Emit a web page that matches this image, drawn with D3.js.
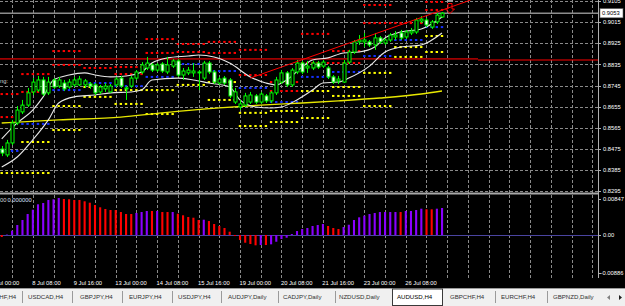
<!DOCTYPE html>
<html><head><meta charset="utf-8">
<script src="https://cdn.jsdelivr.net/npm/d3@7"></script>
<style>html,body{margin:0;padding:0;background:#000;overflow:hidden}svg{display:block}</style>
</head><body>
<svg id="c" width="625" height="306"></svg>
<script>
// ---------------- DATA ----------------
const opens = [
.8475,.8450,.8501,.8586,.8633,.8662,.8718,.8726,.8769,.8714,
.8769,.8743,.8756,.8739,.8748,.8748,.8748,.8752,.8748,.8718,
.8731,.8718,.8748,.8777,.8731,.8743,.8777,.8803,.8820,.8833,
.8811,.8837,.8803,.8828,.8850,.8790,.8799,.8799,.8799,.8777,
.8841,.8803,.8756,.8777,.8769,.8675,.8654,.8662,.8675,.8701,
.8675,.8701,.8680,.8714,.8760,.8799,.8748,.8803,.8841,.8820,
.8820,.8841,.8828,.8820,.8782,.8765,.8760,.8845,.8888,.8931,
.8931,.8931,.8918,.8948,.8926,.8939,.8952,.8969,.8952,.8969,
.8973,.9020,.9024,.8994,.9016,.9037];
const highs = [
.8488,.8514,.8599,.8658,.8684,.8735,.8777,.8786,.8782,.8782,
.8777,.8782,.8769,.8773,.8782,.8786,.8773,.8760,.8756,.8748,
.8756,.8752,.8782,.8786,.8743,.8786,.8811,.8845,.8867,.8841,
.8841,.8845,.8867,.8858,.8858,.8820,.8824,.8841,.8811,.8850,
.8850,.8811,.8782,.8786,.8777,.8735,.8684,.8714,.8718,.8709,
.8718,.8709,.8722,.8782,.8811,.8807,.8820,.8854,.8850,.8850,
.8850,.8850,.8854,.8828,.8790,.8786,.8854,.8897,.8939,.8960,
.8969,.8939,.8969,.8956,.8948,.8969,.8977,.8982,.8982,.8990,
.9033,.9041,.9033,.9024,.9054,.9058];
const lows = [
.8445,.8441,.8492,.8577,.8624,.8654,.8705,.8718,.8701,.8705,
.8731,.8735,.8722,.8731,.8739,.8743,.8735,.8731,.8705,.8709,
.8718,.8714,.8739,.8735,.8684,.8735,.8769,.8794,.8811,.8803,
.8803,.8799,.8794,.8820,.8782,.8769,.8790,.8782,.8726,.8769,
.8794,.8752,.8748,.8748,.8692,.8667,.8641,.8654,.8667,.8667,
.8667,.8671,.8671,.8705,.8752,.8739,.8739,.8794,.8794,.8799,
.8811,.8816,.8820,.8773,.8752,.8752,.8756,.8837,.8880,.8918,
.8909,.8909,.8897,.8922,.8918,.8931,.8939,.8939,.8943,.8960,
.8965,.9011,.8994,.8986,.9007,.9033];
const closes = [
.8458,.8501,.8586,.8641,.8662,.8714,.8760,.8769,.8709,.8760,
.8739,.8769,.8731,.8760,.8769,.8773,.8765,.8743,.8714,.8739,
.8743,.8743,.8773,.8743,.8735,.8777,.8803,.8833,.8841,.8811,
.8833,.8807,.8833,.8850,.8790,.8807,.8811,.8807,.8803,.8841,
.8803,.8760,.8773,.8756,.8701,.8718,.8667,.8701,.8705,.8675,
.8709,.8680,.8714,.8769,.8799,.8748,.8811,.8841,.8803,.8828,
.8841,.8824,.8845,.8782,.8760,.8773,.8841,.8888,.8931,.8939,
.8939,.8918,.8948,.8931,.8939,.8960,.8960,.8948,.8973,.8977,
.9024,.9028,.9003,.9016,.9045,.9053];

const histValues = [
-0.00047,0.00010,0.00101,0.00235,0.00353,0.00494,0.00595,0.00722,0.00753,0.00824,
0.00840,0.00871,0.00847,0.00840,0.00824,0.00824,0.00793,0.00760,0.00706,0.00652,
0.00612,0.00588,0.00588,0.00541,0.00494,0.00494,0.00518,0.00541,0.00565,0.00565,
0.00565,0.00541,0.00541,0.00541,0.00501,0.00464,0.00424,0.00407,0.00353,0.00360,
0.00329,0.00259,0.00212,0.00165,0.00078,-0.00024,-0.00118,-0.00181,-0.00212,-0.00242,
-0.00235,-0.00235,-0.00219,-0.00158,-0.00094,-0.00064,0.00024,0.00094,0.00141,0.00165,
0.00212,0.00235,0.00259,0.00212,0.00165,0.00141,0.00188,0.00242,0.00353,0.00416,
0.00454,0.00494,0.00518,0.00541,0.00541,0.00541,0.00541,0.00541,0.00565,0.00565,
0.00588,0.00619,0.00605,0.00605,0.00619,0.00635];
const histDirection = ("du" + "uuuuuuuuuu" + "dddddddddddddd" + "uuu" + "d" + "u" + "dd" + "u" +
  "ddddd" + "u" + "dddddddddd" + "u" + "d" + "uuuuuuuuuuu" + "ddd" + "uuuuuuuuuuu" + "d" +
  "uuuu" + "dd" + "uu").split("");

const dayStartBar = [0,4,10,16,22,28,34,40,46,52,58,64,70,76,82];
const dayEndBar   = [3,9,15,21,27,33,39,45,51,57,63,69,75,81,85];
const resistLevels = [
 [.8709,.8611],[.8794,.8718],[.8892,.8833],[.8820],[.8824,.8794],[.8943,.8884],
 [.8922,.8888],[.8931,.8884],[.8897,.8790],[.8760,.8722],[.8965,.8841],[.8892,.8841],
 [.9088,.9011],[.9011],[.9101,.9067]];
const pivotLevels = [.8467,.8582,.8726,.8756,.8743,.8782,.8837,.8807,.8735,.8675,.8782,.8803,.8871,.8939,.8994];
const supportLevels = [
 [.8373],[.8505,.8373],[.8658,.8556],[.8739,.8697],[.8726,.8667],[.8726,.8624],
 [.8748],[.8760,.8684],[.8629,.8573],[.8637,.8590],[.8722,.8607],[.8739,.8701],
 [.8799,.8658],[.8909,.8867],[.8956,.8888]];

const upperBand = [[0,.8518],[3,.8586],[6,.8641],[8,.8697],[10,.8769],[13,.8790],[16,.8799],
 [18,.8790],[21,.8782],[24,.8786],[27,.8803],[29,.8841],[32,.8863],[36,.8871],[38,.8875],
 [41,.8867],[44,.8841],[48,.8782],[51,.8756],[53,.8748],[55,.8769],[58,.8824],[60,.8854],
 [63,.8863],[66,.8884],[69,.8888],[72,.8909],[74,.8948],[77,.8973],[81,.8986],[85,.9037]];
const lowerBand = [[0,.8399],[3,.8441],[6,.8514],[9,.8599],[11,.8671],[14,.8697],[18,.8705],
 [21,.8714],[25,.8718],[27,.8726],[29,.8769],[34,.8777],[37,.8769],[40,.8756],[44,.8739],
 [46,.8684],[49,.8654],[52,.8650],[54,.8654],[57,.8684],[60,.8726],[62,.8756],[65,.8760],
 [67,.8777],[71,.8828],[74,.8888],[77,.8909],[81,.8918],[85,.8969]];
const slowMA = [[0,.8586],[11,.8599],[23,.8611],[31,.8629],[42,.8650],[50,.8662],[58,.8671],
 [65,.8680],[73,.8692],[81,.8709],[85,.8722]];
const trendLine = [[48,.8777],[90.5,.9109]];
const horizontalLevel = 0.8856;
const bidPrice = 0.9053;

const priceTicks = [0.9105,0.9015,0.8925,0.8835,0.8745,0.8655,0.8565,0.8475,0.8385,0.8295];
const subTicks = [0.00847, 0, -0.00886];
const subTickLabels = ["0.00847","0.00","-0.00886"];
const dateTickBars = [-2,6,14,22,30,38,46,54,62,70,78];
const dateTickLabels = ["7 Jul 00:00","8 Jul 08:00","9 Jul 16:00","13 Jul 00:00","14 Jul 08:00",
 "15 Jul 16:00","19 Jul 00:00","20 Jul 08:00","21 Jul 16:00","23 Jul 00:00","26 Jul 08:00"];
const tabNames = ["EURCHF,H4","USDCAD,H4","GBPJPY,H4","EURJPY,H4","USDJPY,H4","AUDJPY,Daily",
 "CADJPY,Daily","NZDUSD,Daily","AUDUSD,H4","GBPCHF,H4","EURCHF,H4","GBPNZD,Daily"];
const activeTab = "AUDUSD,H4";

// ---------------- LAYOUT ----------------
const W = 625, H = 306, plotR = 598, mainBot = 192, subTop = 195, subBot = 278;
const FONT = "'Liberation Sans', Arial, sans-serif";
const FS = 5.8;
const svg = d3.select("#c");
const x = d3.scaleLinear().domain([0, 85]).range([1.7, 442]);
const y = d3.scaleLinear().domain([0.8295, 0.9105]).range([191.35, 1]);
const ys = d3.scaleLinear().domain([-0.00886, 0.00847]).range([272.7, 199]);
const px = v => Math.round(v) + 0.5;

svg.append("rect").attr("width", W).attr("height", H).attr("fill", "#000");
const defs = svg.append("defs");
defs.append("clipPath").attr("id", "cm").append("rect").attr("x", 0).attr("y", 0).attr("width", plotR).attr("height", mainBot);
defs.append("clipPath").attr("id", "cs").append("rect").attr("x", 0).attr("y", subTop).attr("width", plotR).attr("height", subBot - subTop);

// grid
const grid = svg.append("g").attr("stroke", "#8a8a8a").attr("stroke-dasharray", "3,2").attr("stroke-width", 1);
const gridBars = d3.range(2, 116, 4);
grid.selectAll("line.v").data(gridBars).join("line").attr("class", "v")
  .attr("x1", b => px(x(b))).attr("x2", b => px(x(b))).attr("y1", 0).attr("y2", subBot);
grid.selectAll("line.h").data(priceTicks).join("line").attr("class", "h")
  .attr("x1", 0).attr("x2", plotR).attr("y1", p => px(y(p))).attr("y2", p => px(y(p)));

// window separator & axis line
svg.append("rect").attr("x", 0).attr("y", 192.5).attr("width", plotR + 1).attr("height", 2).attr("fill", "#a8a8a8");
svg.append("line").attr("x1", px(plotR)).attr("x2", px(plotR)).attr("y1", 0).attr("y2", subBot).attr("stroke", "#b0b0b0");

// ------- main window -------
const gm = svg.append("g").attr("clip-path", "url(#cm)");

// bid line
gm.append("line").attr("x1", 0).attr("x2", plotR).attr("y1", y(bidPrice)).attr("y2", y(bidPrice))
  .attr("stroke", "#8c8c8c").attr("stroke-width", 1.6);

// horizontal red level
gm.append("line").attr("x1", 0).attr("x2", 478).attr("y1", y(horizontalLevel) - 0.6).attr("y2", y(horizontalLevel) - 0.6)
  .attr("stroke", "#a00000").attr("stroke-width", 1.6);
gm.append("line").attr("x1", 478).attr("x2", plotR).attr("y1", y(horizontalLevel) + 0.5).attr("y2", y(horizontalLevel) + 0.5)
  .attr("stroke", "#ff0000").attr("stroke-width", 1.2);

// daily level dots
const dots = [];
dayStartBar.forEach((s, d) => {
  for (let b = s; b <= dayEndBar[d]; b++) {
    resistLevels[d].forEach(v => dots.push({ b, v, c: "#ff0000" }));
    dots.push({ b, v: pivotLevels[d], c: "#1530ff" });
    supportLevels[d].forEach(v => dots.push({ b, v, c: "#ffff00" }));
  }
});
gm.selectAll("rect.dot").data(dots).join("rect").attr("class", "dot")
  .attr("x", d => x(d.b) - 1.2).attr("y", d => y(d.v) - 1).attr("width", 2.4).attr("height", 2)
  .attr("fill", d => d.c);

// slow MA (yellow)
const lineGen = d3.line().x(d => x(d[0])).y(d => y(d[1])).curve(d3.curveMonotoneX);
gm.append("path").attr("d", lineGen(slowMA)).attr("fill", "none").attr("stroke", "#e8e800").attr("stroke-width", 1.4);
// bands (white)
gm.append("path").attr("d", lineGen(upperBand)).attr("fill", "none").attr("stroke", "#e8e8e8").attr("stroke-width", 1.1);
gm.append("path").attr("d", lineGen(lowerBand)).attr("fill", "none").attr("stroke", "#e8e8e8").attr("stroke-width", 1.1);

// candles
const candles = opens.map((o, i) => ({ i, o, h: highs[i], l: lows[i], c: closes[i] }));
const cg = gm.append("g");
cg.selectAll("line.wick").data(candles).join("line").attr("class", "wick")
  .attr("x1", d => px(x(d.i))).attr("x2", d => px(x(d.i)))
  .attr("y1", d => y(d.h)).attr("y2", d => y(d.l)).attr("stroke", "#00ff00").attr("stroke-width", 1);
cg.selectAll("rect.body").data(candles).join("rect").attr("class", "body")
  .attr("x", d => px(x(d.i)) - 1.5).attr("width", 3)
  .attr("y", d => y(Math.max(d.o, d.c))).attr("height", d => Math.max(0.8, Math.abs(y(d.o) - y(d.c))))
  .attr("fill", d => d.c >= d.o ? "#000" : "#ffffff").attr("stroke", "#00ff00").attr("stroke-width", 1);

// trend line
gm.append("line").attr("x1", x(trendLine[0][0])).attr("y1", y(trendLine[0][1]))
  .attr("x2", x(trendLine[1][0])).attr("y2", y(trendLine[1][1])).attr("stroke", "#ff0000").attr("stroke-width", 1);

// arrow mark at top
gm.append("rect").attr("x", 447).attr("y", 0).attr("width", 6).attr("height", 2).attr("fill", "#9a9a9a");
gm.append("path").attr("d", "M448,3.5 L452,3.5 L452,9 L454.5,9 L450,13.5 L445.5,9 L448,9 Z")
  .attr("fill", "none").attr("stroke", "#ff0000").attr("stroke-width", 1);

// left label
svg.append("text").attr("x", 0).attr("y", 83).attr("font-family", FONT).attr("font-size", FS)
  .attr("fill", "#d0d0d0").text("ng:");

// price axis
const pa = svg.append("g").attr("font-family", FONT).attr("font-size", FS).attr("fill", "#ffffff");
priceTicks.forEach(p => {
  pa.append("line").attr("x1", plotR).attr("x2", plotR + 3).attr("y1", px(y(p))).attr("y2", px(y(p))).attr("stroke", "#b0b0b0");
  pa.append("text").attr("x", 603).attr("y", y(p) + 2.1).text(d3.format(".4f")(p));
});
pa.append("rect").attr("x", 600).attr("y", y(bidPrice) - 4.6).attr("width", 23).attr("height", 9.2)
  .attr("fill", "#ffffff").attr("stroke", "#606060").attr("stroke-width", 0.6);
pa.append("text").attr("x", 602).attr("y", y(bidPrice) + 2.1).attr("fill", "#000").text(d3.format(".4f")(bidPrice));

// ------- sub window -------
const gs = svg.append("g").attr("clip-path", "url(#cs)");
gs.append("line").attr("x1", 0).attr("x2", plotR).attr("y1", px(ys(0))).attr("y2", px(ys(0)))
  .attr("stroke", "#4a44a0").attr("stroke-width", 1);
gs.selectAll("rect.hb").data(histValues).join("rect").attr("class", "hb")
  .attr("x", (v, i) => x(i) - 1).attr("width", 2.1)
  .attr("y", v => Math.min(ys(v), ys(0))).attr("height", v => Math.abs(ys(v) - ys(0)))
  .attr("fill", (v, i) => histDirection[i] === "d" ? "#ff0000" : "#8a00ff");

svg.append("text").attr("x", 0).attr("y", 201.5).attr("font-family", FONT).attr("font-size", FS)
  .attr("fill", "#d8d8d8").text("00");
svg.append("text").attr("x", 7.5).attr("y", 201.5).attr("font-family", FONT).attr("font-size", FS)
  .attr("fill", "#d8e0ff").text("0.000000");

const sa = svg.append("g").attr("font-family", FONT).attr("font-size", FS).attr("fill", "#ffffff");
subTicks.forEach((v, i) => {
  sa.append("line").attr("x1", plotR).attr("x2", plotR + 3).attr("y1", px(ys(v))).attr("y2", px(ys(v))).attr("stroke", "#b0b0b0");
  sa.append("text").attr("x", i === 2 ? 600.5 : 603).attr("y", ys(v) + 2.1).text(subTickLabels[i]);
});

// date axis
const da = svg.append("g").attr("font-family", FONT).attr("font-size", FS).attr("fill", "#ffffff");
dateTickBars.forEach((b, i) => {
  da.append("text").attr("x", x(b) - 0.5).attr("y", 285.2).text(dateTickLabels[i]);
});

// tabs
const tb = svg.append("g");
tb.append("rect").attr("x", 0).attr("y", 288).attr("width", W).attr("height", 18).attr("fill", "#f0f0f0");
tb.append("line").attr("x1", 0).attr("x2", W).attr("y1", 288.5).attr("y2", 288.5).attr("stroke", "#9a9a9a");
const tabTextX = [-18, 28, 80, 129, 178, 228, 283, 339, 397, 450, 501, 553];
const tabSepX = [22, 72, 122, 172, 221, 278, 335, 495, 547];
tb.append("rect").attr("x", 392.5).attr("y", 289).attr("width", 50).attr("height", 16.5)
  .attr("fill", "#ffffff").attr("stroke", "#3a3a3a").attr("stroke-width", 1);
tabSepX.forEach(s => tb.append("line").attr("x1", s + 0.5).attr("x2", s + 0.5).attr("y1", 291).attr("y2", 303).attr("stroke", "#9a9a9a"));
tabNames.forEach((t, i) => {
  tb.append("text").attr("x", tabTextX[i]).attr("y", 299.3).attr("font-family", FONT).attr("font-size", FS + 0.3)
    .attr("fill", t === activeTab && i === 8 ? "#000" : "#303030").text(t);
});
tb.append("path").attr("d", "M610,295 L607,297.5 L610,300 Z").attr("fill", "#808080");
tb.append("path").attr("d", "M619,295 L622,297.5 L619,300 Z").attr("fill", "#202020");
</script>
</body></html>
